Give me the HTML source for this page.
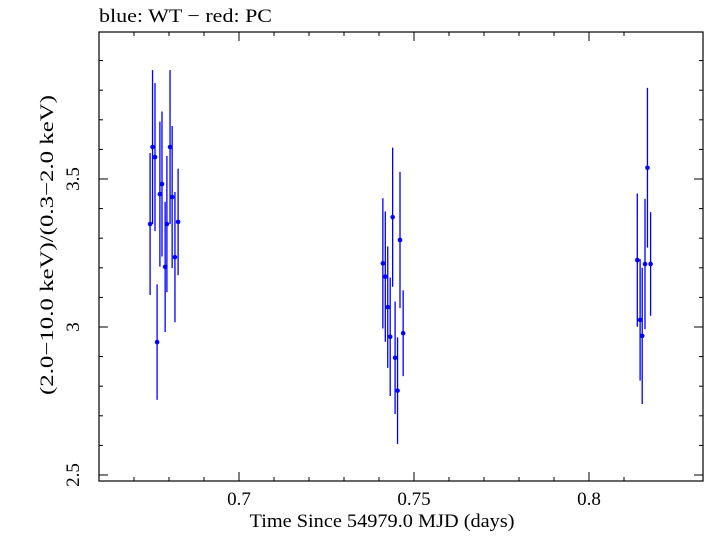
<!DOCTYPE html>
<html><head><meta charset="utf-8"><style>
body{margin:0;background:#fff;width:705px;height:532px;overflow:hidden}
text{font-family:"Liberation Serif",serif;fill:#000}
</style></head><body>
<svg id="chart" width="705" height="532" xmlns="http://www.w3.org/2000/svg">
<text x="99" y="22" font-size="19" textLength="173" lengthAdjust="spacingAndGlyphs">blue: WT − red: PC</text>
<rect x="99" y="32" width="604" height="449" fill="none" stroke="#000" stroke-width="1.2"/>
<g id="ticks"></g>
<g id="points"></g>
<text x="382" y="527" font-size="19" text-anchor="middle" textLength="265" lengthAdjust="spacingAndGlyphs">Time Since 54979.0 MJD (days)</text>
<text transform="translate(53,245) rotate(-90)" font-size="19" text-anchor="middle" textLength="300" lengthAdjust="spacingAndGlyphs">(2.0−10.0 keV)/(0.3−2.0 keV)</text>
</svg>
<script>
const xs=[0.6746,0.6753,0.6760,0.6766,0.6774,0.6780,0.6789,0.6794,0.6803,0.6809,0.6817,0.6826,
0.7411,0.7418,0.7425,0.7432,0.7439,0.7446,0.7453,0.7460,0.7469,
0.8138,0.8146,0.8152,0.8160,0.8167,0.8176];
const ys=[3.348,3.608,3.574,2.949,3.449,3.483,3.203,3.348,3.608,3.439,3.236,3.355,
3.215,3.170,3.067,2.967,3.371,2.896,2.785,3.294,2.979,
3.226,3.024,2.970,3.213,3.538,3.213];
const errs=[0.24,0.26,0.25,0.195,0.245,0.245,0.22,0.23,0.26,0.24,0.22,0.18,
0.22,0.22,0.205,0.2,0.235,0.19,0.18,0.23,0.145,
0.225,0.205,0.23,0.22,0.27,0.175];
const xTicks=[0.7,0.75,0.8];
const yTicks=[2.5,3,3.5];
const xLabels=["0.7","0.75","0.8"];
const yLabels=["2.5","3","3.5"];
const X=v=>239+(v-0.7)*3500;
const Y=v=>327-(v-3)*296;
const NS="http://www.w3.org/2000/svg";
const tg=document.getElementById('ticks'),pg=document.getElementById('points');
function ln(g,x1,y1,x2,y2,c,w){const l=document.createElementNS(NS,'line');l.setAttribute('x1',x1);l.setAttribute('y1',y1);l.setAttribute('x2',x2);l.setAttribute('y2',y2);l.setAttribute('stroke',c);l.setAttribute('stroke-width',w);g.appendChild(l);return l;}
for(let i=0;i<=15;i++){const v=0.66+i*0.01;const x=X(v);if(x<=99||x>=703)continue;
const major=Math.abs(v*20-Math.round(v*20))<1e-6;const L=major?9:4;
const t1=ln(tg,x,481,x,481-L,'#000',1);


const t2=ln(tg,x,32,x,32+L,'#000',1);

}
for(let i=0;i<=15;i++){const v=2.5+i*0.1;const y=Y(v);if(y<32||y>481)continue;
const major=Math.abs(v*2-Math.round(v*2))<1e-6;const L=major?9:4;
const t1=ln(tg,99,y,99+L,y,'#000',1);


const t2=ln(tg,703,y,703-L,y,'#000',1);

}
xTicks.forEach((v,i)=>{const t=document.createElementNS(NS,'text');t.setAttribute('x',X(v));t.setAttribute('y',505);t.setAttribute('font-size','19');t.setAttribute('text-anchor','middle');t.textContent=xLabels[i];


tg.appendChild(t);});
yTicks.forEach((v,i)=>{const t=document.createElementNS(NS,'text');t.setAttribute('transform',`translate(79,${Y(v)}) rotate(-90)`);t.setAttribute('font-size','19');t.setAttribute('text-anchor','middle');t.textContent=yLabels[i];


tg.appendChild(t);});
xs.forEach((v,i)=>{const x=X(v);
const e=ln(pg,x,Y(ys[i]+errs[i]),x,Y(ys[i]-errs[i]),'#0000ff',1.3);


const c=document.createElementNS(NS,'circle');c.setAttribute('cx',x);c.setAttribute('cy',Y(ys[i]));c.setAttribute('r',2.3);c.setAttribute('fill','#0000ff');


pg.appendChild(c);});
</script>
</body></html>
